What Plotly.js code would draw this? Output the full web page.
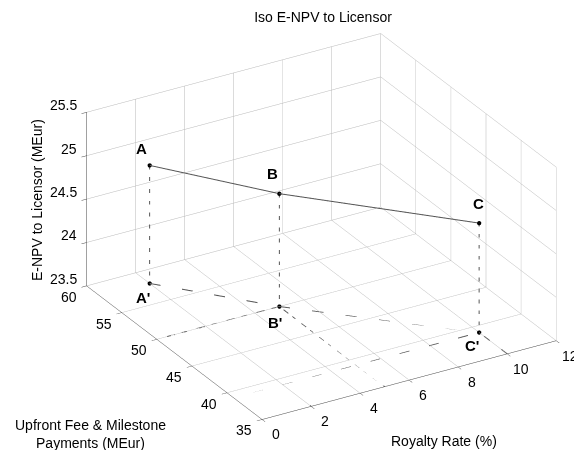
<!DOCTYPE html>
<html>
<head>
<meta charset="utf-8">
<script src="https://cdn.plot.ly/plotly-3.0.1.min.js"></script>
<style>html,body{margin:0;padding:0;background:#fff;}#chart{width:574px;height:450px;}</style>
</head>
<body>
<div id="chart"></div>
<script>
// Data
const pointLabels = ['A', 'B', 'C'];
const royaltyRate = [2, 5, 10];          // %
const upfrontFee = [58, 50, 39];         // MEur
const enpvLicensor = [24.86, 24.80, 24.76]; // MEur

const xTicks = [0, 2, 4, 6, 8, 10, 12];
const yTicks = [35, 40, 45, 50, 55, 60];
const zTicks = [23.5, 24, 24.5, 25, 25.5];
const xTickText = ['0', '2', '4', '6', '8', '10', '12'];
const yTickText = ['35', '40', '45', '50', '55', '60'];
const zTickText = ['23.5', '24', '24.5', '25', '25.5'];

const xMin = xTicks[0], xMax = xTicks[xTicks.length - 1];
const yMin = yTicks[0], yMax = yTicks[yTicks.length - 1];
const zMin = zTicks[0], zMax = zTicks[zTicks.length - 1];

const FONT = 'Liberation Sans, Arial, Helvetica, sans-serif';
const projDash = ['longdash', 'longdashdot', 'longdash'];

const traces = [];
traces.push({
  type: 'scatter3d', mode: 'lines+markers',
  x: royaltyRate, y: upfrontFee, z: enpvLicensor,
  line: {color: '#555555', width: 2},
  marker: {size: 2.5, color: '#000000'},
  hoverinfo: 'skip', showlegend: false
});
for (let i = 0; i < royaltyRate.length; i++) {
  traces.push({
    type: 'scatter3d', mode: 'lines',
    x: [royaltyRate[i], royaltyRate[i]], y: [upfrontFee[i], upfrontFee[i]], z: [enpvLicensor[i], zMin],
    line: {color: '#555555', width: 2, dash: 'longdash'},
    hoverinfo: 'skip', showlegend: false
  });
}
traces.push({
  type: 'scatter3d', mode: 'lines+markers',
  x: royaltyRate, y: upfrontFee, z: royaltyRate.map(() => zMin),
  line: {color: '#555555', width: 2, dash: 'longdash'},
  marker: {size: 2.5, color: '#000000'},
  hoverinfo: 'skip', showlegend: false
});
for (let i = 0; i < royaltyRate.length; i++) {
  traces.push({
    type: 'scatter3d', mode: 'lines',
    x: [royaltyRate[i], royaltyRate[i], xMin], y: [yMin, upfrontFee[i], upfrontFee[i]], z: [zMin, zMin, zMin],
    line: {color: '#555555', width: 2, dash: projDash[i]},
    hoverinfo: 'skip', showlegend: false
  });
}

const sceneAnn = [];
const labelFont = {family: FONT, size: 15, color: '#000'};
const tickFont = {family: FONT, size: 14, color: '#000'};
const topShift = [[-8, 17], [-7, 20], [-1, 20]];
const botShift = [[-7, -14], [-4, -16], [-7, -13]];
for (let i = 0; i < royaltyRate.length; i++) {
  sceneAnn.push({x: royaltyRate[i], y: upfrontFee[i], z: enpvLicensor[i], text: '<b>' + pointLabels[i] + '</b>',
    showarrow: false, xshift: topShift[i][0], yshift: topShift[i][1], font: labelFont});
  sceneAnn.push({x: royaltyRate[i], y: upfrontFee[i], z: zMin, text: "<b>" + pointLabels[i] + "'</b>",
    showarrow: false, xshift: botShift[i][0], yshift: botShift[i][1], font: labelFont});
}
// tick labels placed through the scene projection
xTicks.forEach((v, i) => sceneAnn.push({x: v, y: yMin, z: zMin, text: xTickText[i], showarrow: false,
  xanchor: 'center', yanchor: 'middle', xshift: 14, yshift: -15, font: tickFont}));
yTicks.forEach((v, i) => sceneAnn.push({x: xMin, y: v, z: zMin, text: yTickText[i], showarrow: false,
  xanchor: 'center', yanchor: 'middle', xshift: -18, yshift: -11, font: tickFont}));
zTicks.forEach((v, i) => sceneAnn.push({x: xMin, y: yMax, z: v, text: zTickText[i], showarrow: false,
  xanchor: 'right', yanchor: 'middle', xshift: -8, yshift: 7, font: tickFont}));

function axis(range, ticks) {
  return {
    range: range, autorange: false, tickvals: ticks, showticklabels: false,
    showgrid: true, gridcolor: '#b8b8b8', gridwidth: 1,
    showline: true, linecolor: '#444444', linewidth: 1,
    ticks: 'outside', ticklen: 6, tickcolor: '#444444',
    zeroline: false, showbackground: false, showspikes: false,
    title: {text: ''}
  };
}

const k = 1.2;
const e = [-0.4552, -0.7675, 0.4516];
const r = [0.8601, -0.5101, 0];
const s = 1.53;
const dc = -0.154;

const layout = {
  width: 574, height: 450,
  margin: {l: 0, r: 0, t: 0, b: 0},
  paper_bgcolor: '#fff',
  showlegend: false,
  hovermode: false,
  title: {text: 'Iso E-NPV to Licensor', x: 323 / 574, xanchor: 'center', y: 1 - 17 / 450, yanchor: 'middle',
    font: {family: FONT, size: 14, color: '#000'}},
  scene: {
    domain: {x: [0.0, 1.0], y: [0.0, 0.9933]},
    xaxis: axis([xMin, xMax], xTicks),
    yaxis: axis([yMin, yMax], yTicks),
    zaxis: axis([zMin, zMax], zTicks),
    aspectmode: 'manual',
    aspectratio: {x: 1 * s, y: 1.006 * s, z: 0.569 * s},
    camera: {
      eye: {x: k * e[0] + dc * r[0], y: k * e[1] + dc * r[1], z: k * e[2] + dc * r[2]},
      up: {x: 0, y: 0, z: 1},
      center: {x: dc * r[0], y: dc * r[1], z: dc * r[2]},
      projection: {type: 'orthographic'}
    },
    annotations: sceneAnn
  },
  annotations: [
    {xref: 'paper', yref: 'paper', x: 444 / 574, y: 1 - 441 / 450, text: 'Royalty Rate (%)', showarrow: false,
      xanchor: 'center', yanchor: 'middle', font: {family: FONT, size: 14, color: '#000'}},
    {xref: 'paper', yref: 'paper', x: 90 / 574, y: 1 - 434 / 450, text: 'Upfront Fee &amp; Milestone<br>Payments (MEur)', showarrow: false,
      xanchor: 'center', yanchor: 'middle', font: {family: FONT, size: 14, color: '#000'}},
    {xref: 'paper', yref: 'paper', x: 37 / 574, y: 1 - 200 / 450, text: 'E-NPV to Licensor (MEur)', showarrow: false, textangle: -90,
      xanchor: 'center', yanchor: 'middle', font: {family: FONT, size: 14, color: '#000'}}
  ]
};

Plotly.newPlot('chart', traces, layout, {displayModeBar: false});
</script>
</body>
</html>
